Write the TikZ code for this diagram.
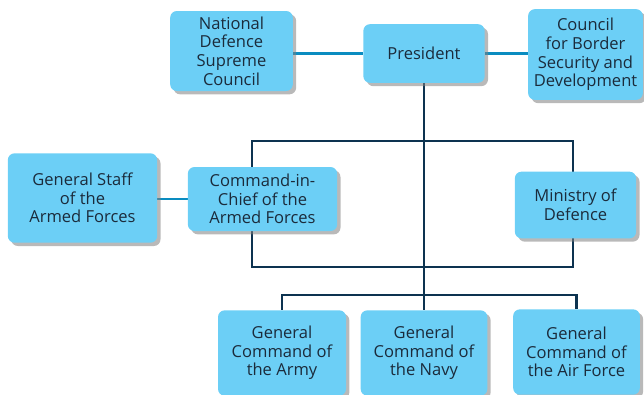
\documentclass[tikz,border=0pt]{standalone}
\usepackage{fontspec}
\setmainfont{Open Sans}
\usetikzlibrary{shadows, backgrounds}
\definecolor{boxfill}{HTML}{6CCFF6}
\definecolor{navyline}{HTML}{0D3350}
\definecolor{blueline}{HTML}{0A8CC0}
\definecolor{boxtext}{HTML}{1B2B3B}
\tikzset{
  orgbox/.style = {rectangle, rounded corners=5pt, fill=boxfill, text=boxtext,
    align=center, inner sep=2pt, font=\fontsize{12.4}{14}\selectfont,
    drop shadow={opacity=0.55, shadow xshift=2.5pt, shadow yshift=-2.5pt}},
  navy/.style = {draw=navyline, line width=2.2pt},
  blue/.style = {draw=blueline, line width=2.2pt}
}

\begin{document}
\begin{tikzpicture}[x=0.75pt, y=-0.75pt]
\clip (0,0) rectangle (644,394);
% top row
\node [orgbox, minimum width=92pt, minimum height=60pt] (ndsc) at (231.5,51) {National\\Defence\\Supreme\\Council};
\node [orgbox, minimum width=91pt, minimum height=44pt] (pres) at (424,53.5) {President};
\node [orgbox, minimum width=86pt, minimum height=68pt] (cbsd) at (585.5,54.5) {Council\\for Border\\Security and\\Development};
% middle row
\node [orgbox, minimum width=112pt, minimum height=67pt] (gsaf) at (82.5,198) {General Staff\\of the\\Armed Forces};
\node [orgbox, minimum width=112pt, minimum height=48pt] (cic) at (262.5,199) {Command-in-\\Chief of the\\Armed Forces};
\node [orgbox, minimum width=91pt, minimum height=50pt] (mod) at (575.5,205) {Ministry of\\Defence};
% bottom row
\node [orgbox, minimum width=96pt, minimum height=64pt] (army) at (282,353) {General\\Command of\\the Army};
\node [orgbox, minimum width=95pt, minimum height=64pt] (navy) at (424,353) {General\\Command of\\the Navy};
\node [orgbox, minimum width=95pt, minimum height=64pt] (airf) at (576.5,352) {General\\Command of\\the Air Force};
\coordinate (tl) at (252,141);
\coordinate (br) at (573,267);
\coordinate (split) at (424,295);
\begin{scope}[on background layer]
\draw [blue] (pres.west) -- (pres.west -| ndsc.east);
\draw [blue] (pres.east) -- (pres.east -| cbsd.west);
\draw [blue] (gsaf.east |- cic.west) -- (cic.west);
\draw [navy] (tl) rectangle (br);
\draw [navy] (pres.south) -- (split);
\draw [navy] (army.north) |- (split) -| (airf.north);
\draw [navy] (split) -- (navy.north);
\end{scope}
\end{tikzpicture}
\end{document}
